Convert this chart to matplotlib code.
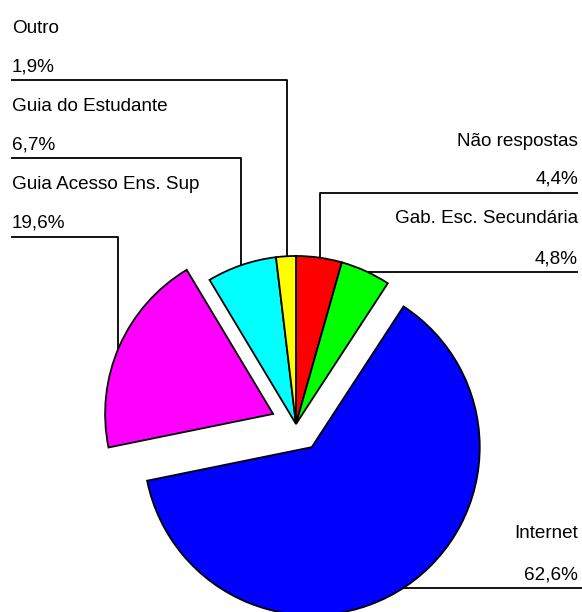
import math

import matplotlib

matplotlib.use("Agg")
import matplotlib.pyplot as plt

# data (clockwise from 12 o'clock)
categories = [
    "Não respostas",
    "Gab. Esc. Secundária",
    "Internet",
    "Guia Acesso Ens. Sup",
    "Guia do Estudante",
    "Outro",
]
values = [4.4, 4.8, 62.6, 19.6, 6.7, 1.9]
colors = ["#FF0000", "#00FF00", "#0000FF", "#FF00FF", "#00FFFF", "#FFFF00"]
explode = [0, 0, 28, 25, 0, 0]

W, H = 582, 612


def py(y):
    # pixel row (from top) -> data y (from bottom)
    return H - y


# label layout in pixel units: text x, name baseline, pct baseline, align,
# leader type, leader params
layout = {
    "Outro": dict(x=12, y=(33, 71), ha="left", kind="vert", line_y=80, x0=11, x1=287),
    "Guia do Estudante": dict(x=12, y=(111, 150), ha="left", kind="vert", line_y=158, x0=11, x1=241),
    "Guia Acesso Ens. Sup": dict(x=12, y=(189, 228), ha="left", kind="vert", line_y=237, x0=11, x1=118),
    "Não respostas": dict(x=578, y=(146, 184), ha="right", kind="vert", line_y=193, x0=578, x1=320),
    "Gab. Esc. Secundária": dict(x=578, y=(223, 263), ha="right", kind="horiz", line_y=272, x0=578),
    "Internet": dict(x=578, y=(538, 579), ha="right", kind="horiz", line_y=588, x0=582),
}

plt.rcParams["font.family"] = ["Liberation Sans", "DejaVu Sans"]

fig = plt.figure(figsize=(W / 100, H / 100), dpi=100)
ax = fig.add_axes([0, 0, 1, 1])

wedges, _ = ax.pie(
    values,
    colors=colors,
    explode=explode,
    startangle=90,
    counterclock=False,
    center=(296, py(424)),
    radius=168,
    wedgeprops=dict(edgecolor="black", linewidth=1.3),
)

ax.set_xlim(0, W)
ax.set_ylim(0, H)
ax.set_aspect("equal")
ax.axis("off")

line_kw = dict(color="black", linewidth=1.3, solid_capstyle="butt")

for wedge, name, val in zip(wedges, categories, values):
    lay = layout[name]
    pct = f"{val:.1f}".replace(".", ",") + "%"
    ax.text(lay["x"], py(lay["y"][0]), name, ha=lay["ha"], va="baseline", fontsize=13.6)
    ax.text(lay["x"], py(lay["y"][1]), pct, ha=lay["ha"], va="baseline", fontsize=13.6)

    cx, cy = wedge.center
    r = wedge.r
    ly = py(lay["line_y"])
    if lay["kind"] == "vert":
        xv = lay["x1"]
        yv = cy + math.sqrt(max(r * r - (xv - cx) ** 2, 0))
        ax.plot([lay["x0"], xv, xv], [ly, ly, yv], **line_kw)
    else:
        xh = cx + math.sqrt(max(r * r - (ly - cy) ** 2, 0))
        ax.plot([xh, lay["x0"]], [ly, ly], **line_kw)

fig.savefig("out.png", dpi=100)
